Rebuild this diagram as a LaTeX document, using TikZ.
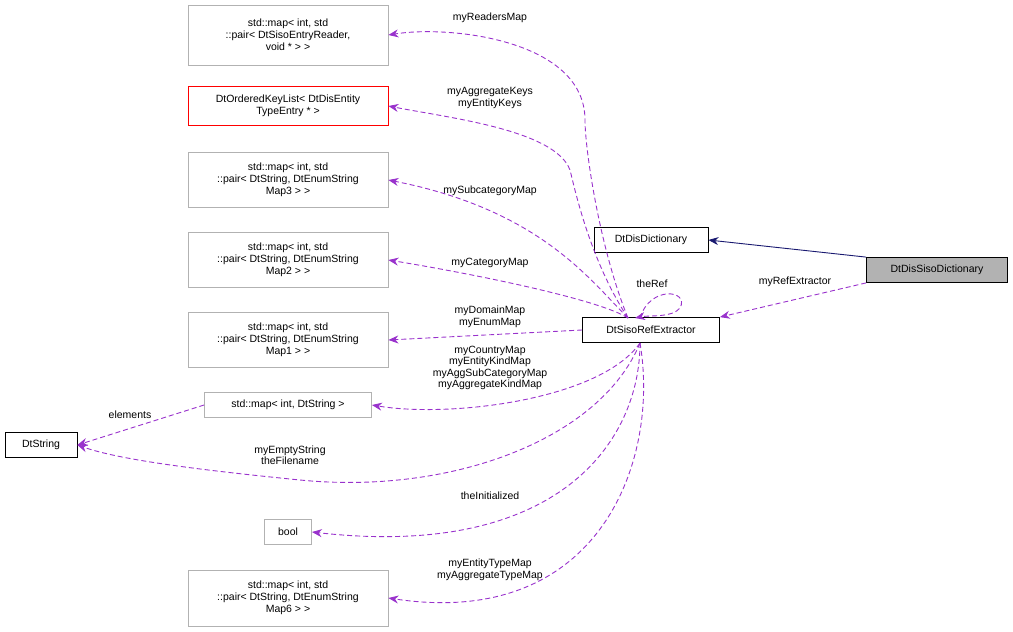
\documentclass[tikz,border=0pt]{standalone}
\usepackage{fontspec}
\setmainfont{Liberation Sans}
\usetikzlibrary{arrows.meta}
\definecolor{edgep}{RGB}{153,50,204}
\definecolor{navyc}{RGB}{25,25,112}
\tikzset{
  box/.style={draw=gray!60, rectangle, align=center, font=\fontsize{10.5}{12}\selectfont, inner sep=1pt, fill=white, line width=0.8pt},
  bbox/.style={box, draw=black},
  rbox/.style={box, draw=red},
  dep/.style={draw=edgep, line width=0.9pt, dash pattern=on 5pt off 3pt, -{Stealth[length=10pt,width=8pt]}, edgep},
  lab/.style={font=\fontsize{10.5}{11.5}\selectfont, align=center, text=black}
}
\begin{document}
\begin{tikzpicture}[x=1pt,y=-1pt]
\useasboundingbox (0,0) rectangle (1013,632);
\node[box, minimum width=200pt, minimum height=60pt] (readers) at (288,35) {std::map\textless{} int, std\\::pair\textless{} DtSisoEntryReader,\\void * \textgreater{} \textgreater};
\node[rbox, minimum width=200pt, minimum height=39pt] (keylist) at (288,106) {DtOrderedKeyList\textless{} DtDisEntity\\TypeEntry * \textgreater};
\node[box, minimum width=200pt, minimum height=55pt] (sub) at (288,180) {std::map\textless{} int, std\\::pair\textless{} DtString, DtEnumString\\Map3 \textgreater{} \textgreater};
\node[box, minimum width=200pt, minimum height=55pt] (cat) at (288,260) {std::map\textless{} int, std\\::pair\textless{} DtString, DtEnumString\\Map2 \textgreater{} \textgreater};
\node[box, minimum width=200pt, minimum height=55pt] (dom) at (288,340) {std::map\textless{} int, std\\::pair\textless{} DtString, DtEnumString\\Map1 \textgreater{} \textgreater};
\node[box, minimum width=167pt, minimum height=25pt] (intstr) at (288,405) {std::map\textless{} int, DtString \textgreater};
\node[bbox, minimum width=72pt, minimum height=25pt] (dtstring) at (41,445) {DtString};
\node[box, minimum width=47pt, minimum height=25pt] (bool) at (288,532) {bool};
\node[box, minimum width=200pt, minimum height=56pt] (map6) at (288,598) {std::map\textless{} int, std\\::pair\textless{} DtString, DtEnumString\\Map6 \textgreater{} \textgreater};
\node[bbox, minimum width=114pt, minimum height=25pt] (dict) at (651,240) {DtDisDictionary};
\node[bbox, fill=gray!60, minimum width=141pt, minimum height=25pt] (siso) at (937,270) {DtDisSisoDictionary};
\node[bbox, minimum width=137pt, minimum height=25pt] (ref) at (651,330) {DtSisoRefExtractor};
\coordinate (rn) at (628,318);
\coordinate (rs) at (640,343);

\draw[navyc, line width=0.9pt, -{Stealth[length=10pt,width=8pt]}] (siso.north west) -- (dict.east);
\draw[dep] (siso.south west) to (ref.north east);
\node[lab] (l0) at (795,282) {myRefExtractor};

\draw[dep] (rn) .. controls (600,250) and (585,150) .. (585,120) .. controls (585,40) and (450,25) .. (readers.east);
\node[lab] (l1) at (490,18) {myReadersMap};
\draw[dep] (rn) .. controls (590,260) and (575,190) .. (570,170) .. controls (555,130) and (450,118) .. (keylist.east);
\node[lab] (l2) at (490,98) {myAggregateKeys\\myEntityKeys};
\draw[dep] (rn) .. controls (590,280) and (540,210) .. (sub.east);
\node[lab] (l3) at (490,191) {mySubcategoryMap};
\draw[dep] (rn) .. controls (600,300) and (480,275) .. (cat.east);
\node[lab] (l4) at (490,263) {myCategoryMap};
\draw[dep] (ref.west) -- (dom.east);
\node[lab] (l5) at (490,317) {myDomainMap\\myEnumMap};
\draw[dep] (rs) .. controls (600,400) and (450,418) .. (intstr.east);
\node[lab] (l6) at (490,368) {myCountryMap\\myEntityKindMap\\myAggSubCategoryMap\\myAggregateKindMap};
\draw[dep] (intstr.west) -- (dtstring.east);
\node[lab] (l7) at (130,415) {elements};
\draw[dep] (rs) .. controls (600,440) and (450,495) .. (300,480) .. controls (200,470) and (120,460) .. (dtstring.east);
\node[lab] (l8) at (290,455) {myEmptyString\\theFilename};
\draw[dep] (rs) .. controls (640,440) and (560,560) .. (bool.east);
\node[lab] (l9) at (490,496) {theInitialized};
\draw[dep] (rs) .. controls (660,460) and (600,630) .. (map6.east);
\node[lab] (l10) at (490,570) {myEntityTypeMap\\myAggregateTypeMap};
\draw[dep] (640,318) .. controls (650,285) and (690,290) .. (680,308) .. controls (672,318) and (650,315) .. (635,318);
\node[lab] (l11) at (652,284) {theRef};
\end{tikzpicture}
\end{document}
